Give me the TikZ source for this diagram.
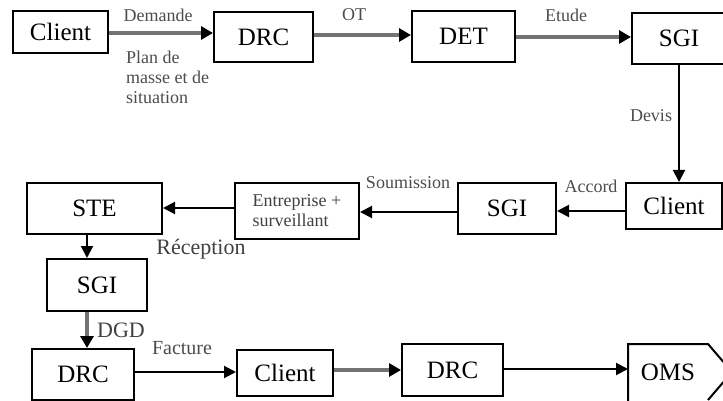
\documentclass[tikz,border=0pt]{standalone}
\usepackage{fontspec}
\setmainfont{Liberation Serif}
\usetikzlibrary{arrows.meta}
\tikzset{
  box/.style={draw=black, line width=2pt, minimum width=#1, inner sep=0pt, font=\fontsize{25}{28}\selectfont},
  lab/.style={text=black!70, inner sep=0pt, font=\fontsize{18}{20}\selectfont},
  blab/.style={text=black!75, inner sep=0pt, font=\fontsize{22}{24}\selectfont},
  garr/.style={line width=4pt, draw=black!55, -{Triangle[length=12pt,width=13pt,fill=black,color=black]}},
  karr/.style={line width=2pt, draw=black, -{Triangle[length=12pt,width=12pt]}},
}
\begin{document}
\begin{tikzpicture}[x=1pt,y=-1pt]
\useasboundingbox (0,0) rectangle (723,401);
\clip (0,0) rectangle (723,401);
% row 1
\node[box=95pt, minimum height=42pt] (c1) at (60.5,32) {Client};
\node[box=99pt, minimum height=50pt] (d1) at (263.5,37) {DRC};
\node[box=103pt, minimum height=51pt] (t1) at (463.5,36.5) {DET};
\node[box=94pt, minimum height=51pt] (s1) at (679,38.5) {SGI};
% row 2
\node[box=96pt, minimum height=46pt] (c2) at (674,206) {Client};
\node[box=98pt, minimum height=51pt] (g2) at (507,208.5) {SGI};
\node[box=124pt, minimum height=56pt, font=\fontsize{18}{20}\selectfont, text=black!75, align=left] (e2) at (297,211) {Entreprise +\\surveillant};
\node[box=135pt, minimum height=51pt] (st) at (94.5,208.5) {STE};
\node[box=100pt, minimum height=52pt] (g3) at (97,285) {SGI};
% row 3
\node[box=102pt, minimum height=51pt] (d3) at (83,374.5) {DRC};
\node[box=96pt, minimum height=46pt] (c3) at (285,373) {Client};
\node[box=101pt, minimum height=52pt] (d4) at (452.5,370) {DRC};
\node[font=\fontsize{25}{28}\selectfont, inner sep=0pt] (oms) at (668,372) {OMS};
\draw[line width=2pt] (628,410) -- (628,344) -- (708,344) -- (732,372) -- (708,400);
\coordinate (omsw) at (628,369);
% arrows
\draw[garr] (c1.east |- 0,33) -- (d1.west |- 0,33);
\draw[garr] (d1.east |- 0,35) -- (t1.west |- 0,35);
\draw[garr] (t1.east |- 0,37) -- (s1.west |- 0,37);
\draw[karr] (s1.south) -- (s1.south |- c2.north);
\draw[karr] (c2.west |- 0,211) -- (g2.east |- 0,211);
\draw[karr] (g2.west |- 0,212) -- (e2.east |- 0,212);
\draw[karr] (e2.west |- 0,208) -- (st.east |- 0,208);
\draw[karr] (st.south -| 87,0) -- (g3.north -| 87,0);
\draw[garr] (g3.south -| 87,0) -- (d3.north -| 87,0);
\draw[karr] (d3.east |- 0,372) -- (c3.west |- 0,372);
\draw[garr] (c3.east |- 0,370) -- (d4.west |- 0,370);
\draw[karr] (d4.east |- omsw) -- (omsw);
% labels
\node[lab] (l1) at (158,15) {Demande};
\node[lab, anchor=north west, align=left] (l2) at (126,51) {Plan de\\masse et de\\situation};
\node[lab] (l3) at (354,15) {OT};
\node[lab] (l4) at (566,15) {Etude};
\node[lab] (l5) at (651,116) {Devis};
\node[lab] (l6) at (408,183) {Soumission};
\node[lab] (l7) at (591,186) {Accord};
\node[blab] (l8) at (201,249) {Réception};
\node[blab] (l9) at (121,330) {DGD};
\node[lab, font=\fontsize{20}{22}\selectfont] (l10) at (182,348) {Facture};
\end{tikzpicture}
\end{document}
